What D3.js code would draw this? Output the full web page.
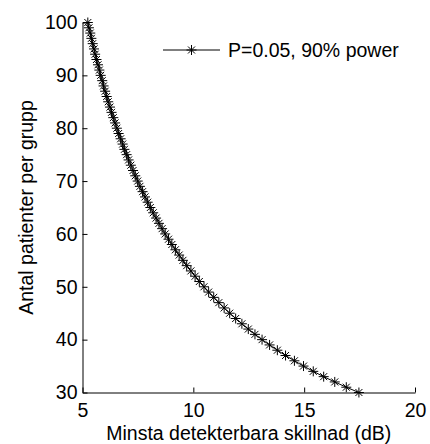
<!DOCTYPE html>
<html>
<head>
<meta charset="utf-8">
<script src="https://cdn.jsdelivr.net/npm/d3@7"></script>
<style>
  body { margin: 0; background: #fff; }
  text { font-family: "Liberation Sans", Arial, Helvetica, sans-serif; }
</style>
</head>
<body>
<svg></svg>
<script>
// patients per group (y) and the minimal detectable difference in dB (x)
let patients = [30, 31, 32, 33, 34, 35, 36, 37, 38, 39,
  40, 41, 42, 43, 44, 45, 46, 47, 48, 49,
  50, 51, 52, 53, 54, 55, 56, 57, 58, 59,
  60, 61, 62, 63, 64, 65, 66, 67, 68, 69,
  70, 71, 72, 73, 74, 75, 76, 77, 78, 79,
  80, 81, 82, 83, 84, 85, 86, 87, 88, 89,
  90, 91, 92, 93, 94, 95, 96, 97, 98, 99, 100];
let diffDb = [17.47, 16.90, 16.38, 15.88, 15.41, 14.97, 14.56, 14.16, 13.79, 13.44,
  13.10, 12.78, 12.48, 12.19, 11.91, 11.64, 11.39, 11.15, 10.92, 10.69,
  10.48, 10.27, 10.08, 9.89, 9.70, 9.53, 9.36, 9.19, 9.03, 8.88,
  8.73, 8.59, 8.45, 8.32, 8.19, 8.06, 7.94, 7.82, 7.71, 7.59,
  7.49, 7.38, 7.28, 7.18, 7.08, 6.99, 6.89, 6.81, 6.72, 6.63,
  6.55, 6.47, 6.39, 6.31, 6.24, 6.16, 6.09, 6.02, 5.95, 5.89,
  5.82, 5.76, 5.70, 5.63, 5.57, 5.52, 5.46, 5.40, 5.35, 5.29, 5.24];
let xTicks = [5, 10, 15, 20];
let yTicks = [30, 40, 50, 60, 70, 80, 90, 100];
let seriesName = 'P=0.05, 90% power';

let data = patients.map((n, i) => ({n: n, d: diffDb[i]}));

let margin = {top: 22.5, right: 15, bottom: 51.5, left: 82.5};
let width = 430 - margin.left - margin.right;
let height = 444 - margin.top - margin.bottom;
let fontSize = '19.5px';

let xScale = d3.scaleLinear().domain([5, 20]).range([0, width]);
let yScale = d3.scaleLinear().domain([30, 100]).range([height, 0]);

let svg = d3.select('svg')
  .attr('width', 430)
  .attr('height', 444)
  .append('g')
  .attr('transform', `translate(${margin.left},${margin.top})`);

// axes, MATLAB style: ticks pointing inwards
let xAxis = svg.append('g')
  .attr('transform', `translate(0,${height})`)
  .call(d3.axisBottom(xScale).tickValues(xTicks).tickSize(-5).tickPadding(10.5).tickSizeOuter(0));
let yAxis = svg.append('g')
  .call(d3.axisLeft(yScale).tickValues(yTicks).tickSize(-5).tickPadding(5).tickSizeOuter(0));

[xAxis, yAxis].forEach((a) => {
  a.select('.domain').attr('stroke', '#000').attr('stroke-width', 1);
  a.selectAll('.tick line').attr('stroke', '#000');
  a.selectAll('.tick text')
    .attr('fill', '#000')
    .style('font-size', fontSize);
});

// axis labels
svg.append('text')
  .attr('x', width / 2)
  .attr('y', height + 47.5)
  .attr('text-anchor', 'middle')
  .style('font-size', fontSize)
  .text('Minsta detekterbara skillnad (dB)');

svg.append('text')
  .attr('transform', `translate(${-49.5},${height / 2}) rotate(-90)`)
  .attr('text-anchor', 'middle')
  .style('font-size', fontSize)
  .text('Antal patienter per grupp');

// curve
let valueline = d3.line()
  .x((d) => xScale(d.d))
  .y((d) => yScale(d.n));

svg.append('path')
  .datum(data)
  .attr('d', valueline)
  .attr('fill', 'none')
  .attr('stroke', '#000')
  .attr('stroke-width', 1);

// star markers
let r = 5;
let star = `M${-r},0L${r},0M0,${-r}L0,${r}` +
  `M${-r * 0.7},${-r * 0.7}L${r * 0.7},${r * 0.7}M${-r * 0.7},${r * 0.7}L${r * 0.7},${-r * 0.7}`;

svg.selectAll('.dot')
  .data(data)
  .enter().append('path')
  .attr('class', 'dot')
  .attr('transform', (d) => `translate(${xScale(d.d)},${yScale(d.n)})`)
  .attr('d', star)
  .attr('fill', 'none')
  .attr('stroke', '#000')
  .attr('stroke-width', 1);

// legend
let legend = svg.append('g').attr('transform', `translate(${163 - margin.left},${50 - margin.top})`);
legend.append('line')
  .attr('x1', 0).attr('x2', 57)
  .attr('y1', 0).attr('y2', 0)
  .attr('stroke', '#000');
legend.append('path')
  .attr('transform', 'translate(28.5,0)')
  .attr('d', star)
  .attr('fill', 'none')
  .attr('stroke', '#000');
legend.append('text')
  .attr('x', 65)
  .attr('y', 7)
  .style('font-size', fontSize)
  .text(seriesName);
</script>
</body>
</html>
